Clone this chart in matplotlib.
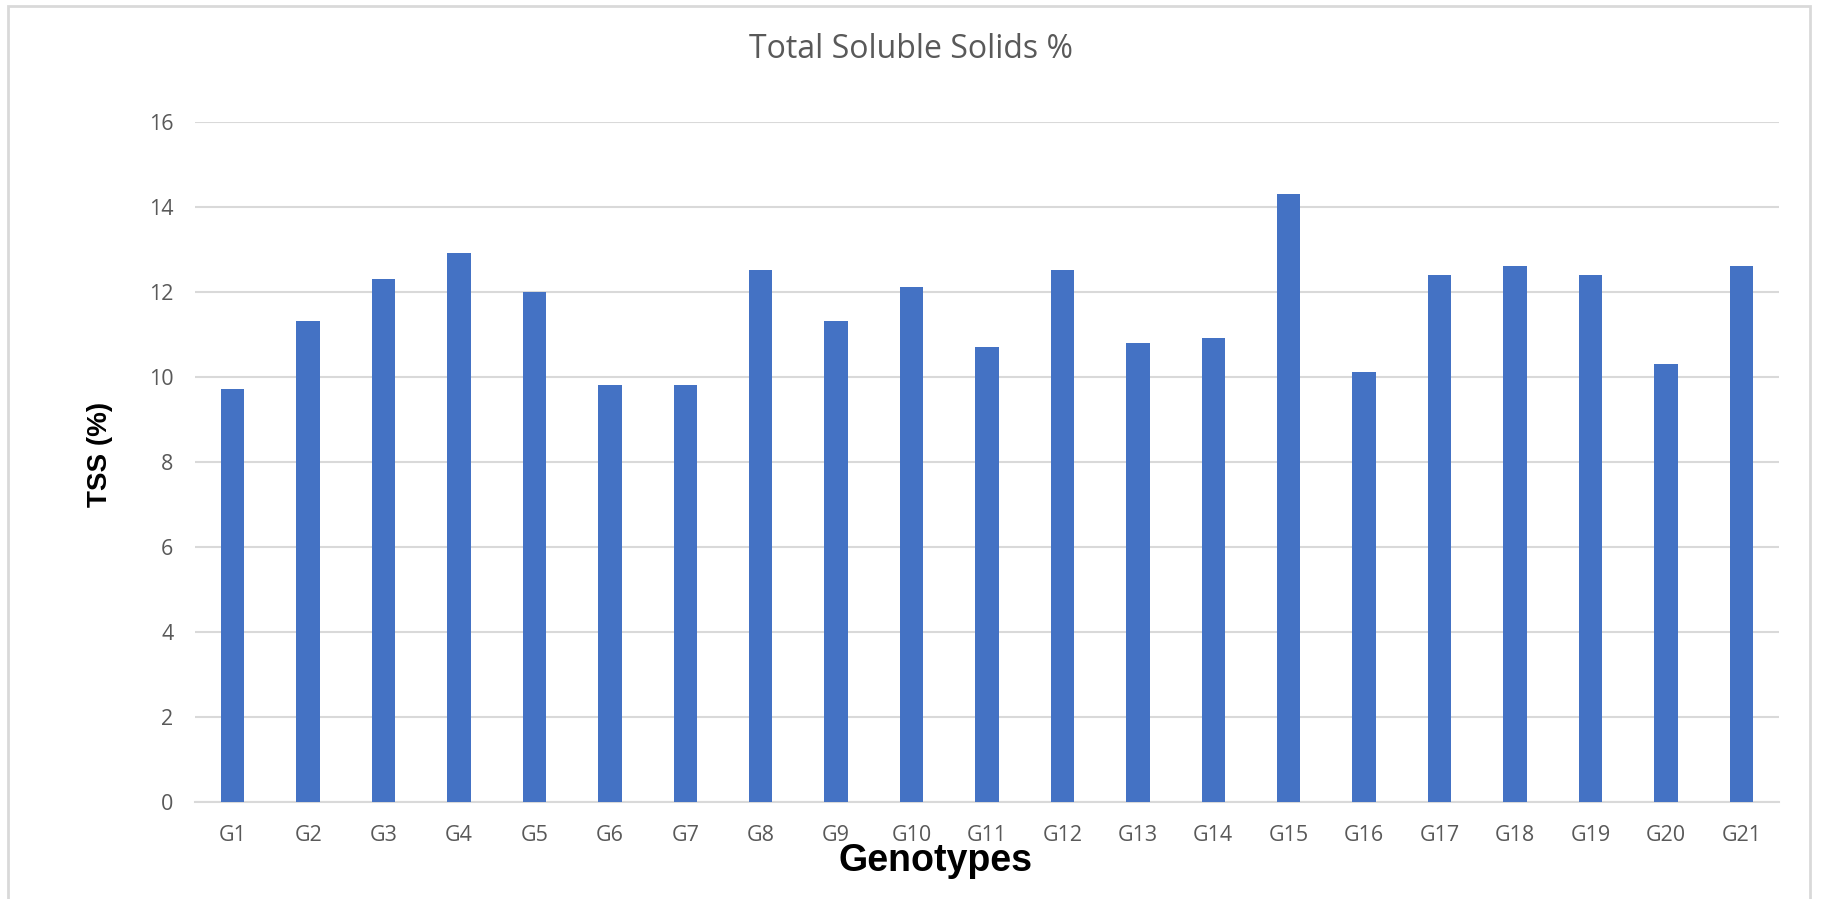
import matplotlib
matplotlib.use("Agg")
import matplotlib.pyplot as plt
from matplotlib.patches import Rectangle
import numpy as np

genotypes = ["G%d" % i for i in range(1, 22)]
tss_values = [9.7, 11.3, 12.3, 12.9, 12.0, 9.8, 9.8, 12.5, 11.3, 12.1, 10.7,
              12.5, 10.8, 10.9, 14.3, 10.1, 12.4, 12.6, 12.4, 10.3, 12.6]
y_ticks = [0, 2, 4, 6, 8, 10, 12, 14, 16]

bar_color = "#4472C4"
grid_color = "#D9D9D9"
text_color = "#595959"

fig = plt.figure(figsize=(18.23, 8.99), dpi=100)
W, H = 1823, 899

# light frame around the chart area (runs off the bottom edge)
fig.patches.append(Rectangle((8 / W, -0.05), (1810 - 8) / W, (H - 6) / H + 0.05,
                             transform=fig.transFigure, fill=False,
                             edgecolor=grid_color, linewidth=2))

ax = fig.add_axes([195 / W, (H - 801.7) / H, (1779 - 195) / W, (801.7 - 121.7) / H])
x = np.arange(len(genotypes))
ax.bar(x, tss_values, width=0.31, color=bar_color, zorder=3)

ax.set_xlim(-0.5, len(genotypes) - 0.5)
ax.set_ylim(0, 16)
ax.set_yticks(y_ticks)
ax.set_xticks(x)
ax.set_xticklabels(genotypes)
ax.yaxis.grid(True, color=grid_color, linewidth=1.5, zorder=0)
ax.set_axisbelow(True)
for side in ["top", "right", "left"]:
    ax.spines[side].set_visible(False)
ax.spines["bottom"].set_color(grid_color)
ax.spines["bottom"].set_linewidth(1.5)
ax.tick_params(axis="both", length=0, labelsize=15.5, labelcolor=text_color)
ax.tick_params(axis="x", pad=17)
ax.tick_params(axis="y", pad=15.5)
for lbl in ax.get_xticklabels() + ax.get_yticklabels():
    lbl.set_family("Open Sans")

fig.text(911 / W, 1 - 49 / H, "Total Soluble Solids %", ha="center", va="center",
         fontsize=23, color=text_color, family="Open Sans")
fig.text(100 / W, 1 - 454 / H, "TSS (%)", ha="center", va="center", rotation=90,
         fontsize=20, fontweight="bold", color="black", family="Liberation Sans")
fig.text(936 / W, 1 - 861 / H, "Genotypes", ha="center", va="center",
         fontsize=27, fontweight="bold", color="black", family="Liberation Sans")

fig.savefig("out.png", dpi=100)
